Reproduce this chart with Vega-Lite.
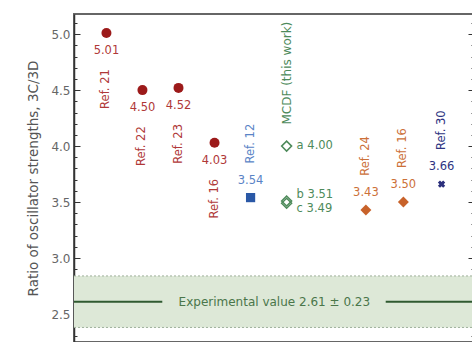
{
  "$schema": "https://vega.github.io/schema/vega-lite/v6.json",
  "width": 400,
  "height": 328,
  "autosize": {"type": "none"},
  "padding": {"left": 74, "top": 14, "right": 0, "bottom": 0},
  "background": "white",
  "config": {
    "view": {"stroke": "#666", "strokeWidth": 2},
    "font": "DejaVu Sans",
    "text": {"font": "DejaVu Sans"}
  },
  "datasets": {
    "pts": [
      {"ref": "Ref. 21", "x": 0.9, "y": 5.01, "label": "5.01", "grp": "red"},
      {"ref": "Ref. 22", "x": 1.9, "y": 4.50, "label": "4.50", "grp": "red"},
      {"ref": "Ref. 23", "x": 2.9, "y": 4.52, "label": "4.52", "grp": "red"},
      {"ref": "Ref. 16", "x": 3.9, "y": 4.03, "label": "4.03", "grp": "red"},
      {"ref": "Ref. 12", "x": 4.9, "y": 3.54, "label": "3.54", "grp": "blue"},
      {"ref": "Ref. 24", "x": 8.1, "y": 3.43, "label": "3.43", "grp": "orange"},
      {"ref": "Ref. 16", "x": 9.14, "y": 3.50, "label": "3.50", "grp": "orange"},
      {"ref": "Ref. 30", "x": 10.2, "y": 3.66, "label": "3.66", "grp": "navy"}
    ],
    "mcdf": [
      {"x": 5.9, "y": 4.00, "label": "a 4.00", "k": "a"},
      {"x": 5.9, "y": 3.51, "label": "b 3.51", "k": "b"},
      {"x": 5.9, "y": 3.49, "label": "c 3.49", "k": "c"}
    ],
    "band": [{"x": 0, "x2": 11.1, "lo": 2.38, "hi": 2.84, "mid": 2.61}],
    "expline": [{"x": 0, "x2": 2.45, "y": 2.61}, {"x": 8.65, "x2": 11.1, "y": 2.61}],
    "exptext": [{"x": 5.56, "y": 2.61, "t": "Experimental value 2.61 ± 0.23"}],
    "mlabel": [{"x": 5.9, "y": 4.00, "t": "MCDF (this work)"}]
  },
  "resolve": {"axis": {"y": "independent"}},
  "layer": [
    {
      "data": {"name": "band"},
      "mark": {"type": "rect", "fill": "#dde8d7"},
      "encoding": {
        "x": {"field": "x", "type": "quantitative", "scale": {"domain": [0, 11.1], "nice": false}, "axis": null},
        "x2": {"field": "x2"},
        "y": {"field": "lo", "type": "quantitative", "scale": {"domain": [2.25, 5.18], "nice": false, "zero": false},
          "axis": {
            "orient": "left",
            "values": [2.3,2.4,2.5,2.6,2.7,2.8,2.9,3.0,3.1,3.2,3.3,3.4,3.5,3.6,3.7,3.8,3.9,4.0,4.1,4.2,4.3,4.4,4.5,4.6,4.7,4.8,4.9,5.0,5.1],
            "labelExpr": "abs(datum.value*2 - round(datum.value*2)) < 0.001 ? format(datum.value, '.1f') : ''",
            "ticks": true,
            "tickSize": {"condition": {"test": "abs(datum.value*2 - round(datum.value*2)) < 0.001", "value": -6}, "value": -3},
            "tickWidth": 1,
            "tickColor": "#333",
            "tickOpacity": 1,
            "domain": true,
            "domainColor": "#333",
            "domainWidth": 1.5,
            "grid": false,
            "labelColor": "#666",
            "labelFontSize": 12,
            "labelPadding": 10,
            "title": "Ratio of oscillator strengths, 3C/3D",
            "titleFontSize": 13.5,
            "titleFontWeight": "normal",
            "titleColor": "#555",
            "titlePadding": 10
          }
        },
        "y2": {"field": "hi"}
      }
    },
    {
      "data": {"name": "band"},
      "mark": {"type": "rule", "stroke": "#9fb09c", "strokeDash": [2, 2], "strokeWidth": 1},
      "encoding": {
        "x": {"field": "x", "type": "quantitative"},
        "x2": {"field": "x2"},
        "y": {"field": "lo", "type": "quantitative",
          "axis": {
            "orient": "right",
            "values": [2.3,2.4,2.5,2.6,2.7,2.8,2.9,3.0,3.1,3.2,3.3,3.4,3.5,3.6,3.7,3.8,3.9,4.0,4.1,4.2,4.3,4.4,4.5,4.6,4.7,4.8,4.9,5.0,5.1],
            "labels": false,
            "ticks": true,
            "tickSize": {"condition": {"test": "abs(datum.value*2 - round(datum.value*2)) < 0.001", "value": -6}, "value": -3},
            "tickColor": "#333",
            "tickOpacity": 1,
            "domain": true,
            "domainColor": "#666",
            "grid": false,
            "title": null
          }
        }
      }
    },
    {
      "data": {"name": "band"},
      "mark": {"type": "rule", "stroke": "#9fb09c", "strokeDash": [2, 2], "strokeWidth": 1},
      "encoding": {
        "x": {"field": "x", "type": "quantitative"},
        "x2": {"field": "x2"},
        "y": {"field": "hi", "type": "quantitative", "axis": null}
      }
    },
    {
      "data": {"name": "expline"},
      "mark": {"type": "rule", "stroke": "#2f5a30", "strokeWidth": 2},
      "encoding": {
        "x": {"field": "x", "type": "quantitative"},
        "x2": {"field": "x2"},
        "y": {"field": "y", "type": "quantitative", "axis": null}
      }
    },
    {
      "data": {"name": "exptext"},
      "mark": {"type": "text", "fontSize": 12, "color": "#4a764a", "align": "center", "baseline": "middle"},
      "encoding": {
        "x": {"field": "x", "type": "quantitative"},
        "y": {"field": "y", "type": "quantitative", "axis": null},
        "text": {"field": "t"}
      }
    },
    {
      "data": {"name": "pts"},
      "transform": [{"filter": "datum.grp == 'red'"}],
      "mark": {"type": "circle", "size": 100, "color": "#9c1a1a", "opacity": 1},
      "encoding": {
        "x": {"field": "x", "type": "quantitative"},
        "y": {"field": "y", "type": "quantitative", "axis": null}
      }
    },
    {
      "data": {"name": "pts"},
      "transform": [{"filter": "datum.grp == 'blue'"}],
      "mark": {"type": "square", "size": 85, "color": "#2a58a6", "opacity": 1},
      "encoding": {
        "x": {"field": "x", "type": "quantitative"},
        "y": {"field": "y", "type": "quantitative", "axis": null}
      }
    },
    {
      "data": {"name": "pts"},
      "transform": [{"filter": "datum.grp == 'orange'"}],
      "mark": {"type": "point", "shape": "diamond", "filled": true, "size": 120, "color": "#c8622a", "opacity": 1},
      "encoding": {
        "x": {"field": "x", "type": "quantitative"},
        "y": {"field": "y", "type": "quantitative", "axis": null}
      }
    },
    {
      "data": {"name": "pts"},
      "transform": [{"filter": "datum.grp == 'navy'"}],
      "mark": {"type": "point", "shape": "cross", "angle": 45, "filled": true, "size": 55, "color": "#2b2f7c", "opacity": 1},
      "encoding": {
        "x": {"field": "x", "type": "quantitative"},
        "y": {"field": "y", "type": "quantitative", "axis": null}
      }
    },
    {
      "data": {"name": "mcdf"},
      "mark": {"type": "point", "shape": "diamond", "filled": false, "size": 100, "strokeWidth": 1.5, "color": "#4d8a5a", "opacity": 1},
      "encoding": {
        "x": {"field": "x", "type": "quantitative"},
        "y": {"field": "y", "type": "quantitative", "axis": null}
      }
    },
    {
      "data": {"name": "mcdf"},
      "transform": [{"filter": "datum.k == 'a'"}],
      "mark": {"type": "text", "fontSize": 11.5, "color": "#4d8a5a", "align": "left", "baseline": "middle", "dx": 10},
      "encoding": {
        "x": {"field": "x", "type": "quantitative"},
        "y": {"field": "y", "type": "quantitative", "axis": null},
        "text": {"field": "label"}
      }
    },
    {
      "data": {"name": "mcdf"},
      "transform": [{"filter": "datum.k == 'b'"}],
      "mark": {"type": "text", "fontSize": 11.5, "color": "#4d8a5a", "align": "left", "baseline": "middle", "dx": 10, "dy": -6},
      "encoding": {
        "x": {"field": "x", "type": "quantitative"},
        "y": {"field": "y", "type": "quantitative", "axis": null},
        "text": {"field": "label"}
      }
    },
    {
      "data": {"name": "mcdf"},
      "transform": [{"filter": "datum.k == 'c'"}],
      "mark": {"type": "text", "fontSize": 11.5, "color": "#4d8a5a", "align": "left", "baseline": "middle", "dx": 10, "dy": 6},
      "encoding": {
        "x": {"field": "x", "type": "quantitative"},
        "y": {"field": "y", "type": "quantitative", "axis": null},
        "text": {"field": "label"}
      }
    },
    {
      "data": {"name": "mlabel"},
      "mark": {"type": "text", "fontSize": 12, "color": "#4d8a5a", "align": "center", "baseline": "middle", "angle": 270, "yOffset": -73},
      "encoding": {
        "x": {"field": "x", "type": "quantitative"},
        "y": {"field": "y", "type": "quantitative", "axis": null},
        "text": {"field": "t"}
      }
    },
    {
      "data": {"name": "pts"},
      "transform": [{"filter": "datum.grp == 'red'"}],
      "mark": {"type": "text", "fontSize": 11.5, "color": "#b03838", "align": "center", "baseline": "middle", "yOffset": 18},
      "encoding": {
        "x": {"field": "x", "type": "quantitative"},
        "y": {"field": "y", "type": "quantitative", "axis": null},
        "text": {"field": "label"}
      }
    },
    {
      "data": {"name": "pts"},
      "transform": [{"filter": "datum.grp == 'red'"}],
      "mark": {"type": "text", "fontSize": 11.5, "color": "#b03838", "align": "center", "baseline": "middle", "angle": 270, "yOffset": 56},
      "encoding": {
        "x": {"field": "x", "type": "quantitative"},
        "y": {"field": "y", "type": "quantitative", "axis": null},
        "text": {"field": "ref"}
      }
    },
    {
      "data": {"name": "pts"},
      "transform": [{"filter": "datum.grp != 'red'"}],
      "mark": {"type": "text", "fontSize": 11.5, "align": "center", "baseline": "middle", "yOffset": -17},
      "encoding": {
        "x": {"field": "x", "type": "quantitative"},
        "y": {"field": "y", "type": "quantitative", "axis": null},
        "text": {"field": "label"},
        "color": {"condition": [{"test": "datum.grp == 'blue'", "value": "#5a84c6"}, {"test": "datum.grp == 'orange'", "value": "#cc7038"}], "value": "#2e3482"}
      }
    },
    {
      "data": {"name": "pts"},
      "transform": [{"filter": "datum.grp != 'red'"}],
      "mark": {"type": "text", "fontSize": 11.5, "align": "center", "baseline": "middle", "angle": 270, "yOffset": -54},
      "encoding": {
        "x": {"field": "x", "type": "quantitative"},
        "y": {"field": "y", "type": "quantitative", "axis": null},
        "text": {"field": "ref"},
        "color": {"condition": [{"test": "datum.grp == 'blue'", "value": "#5a84c6"}, {"test": "datum.grp == 'orange'", "value": "#cc7038"}], "value": "#2e3482"}
      }
    }
  ]
}
